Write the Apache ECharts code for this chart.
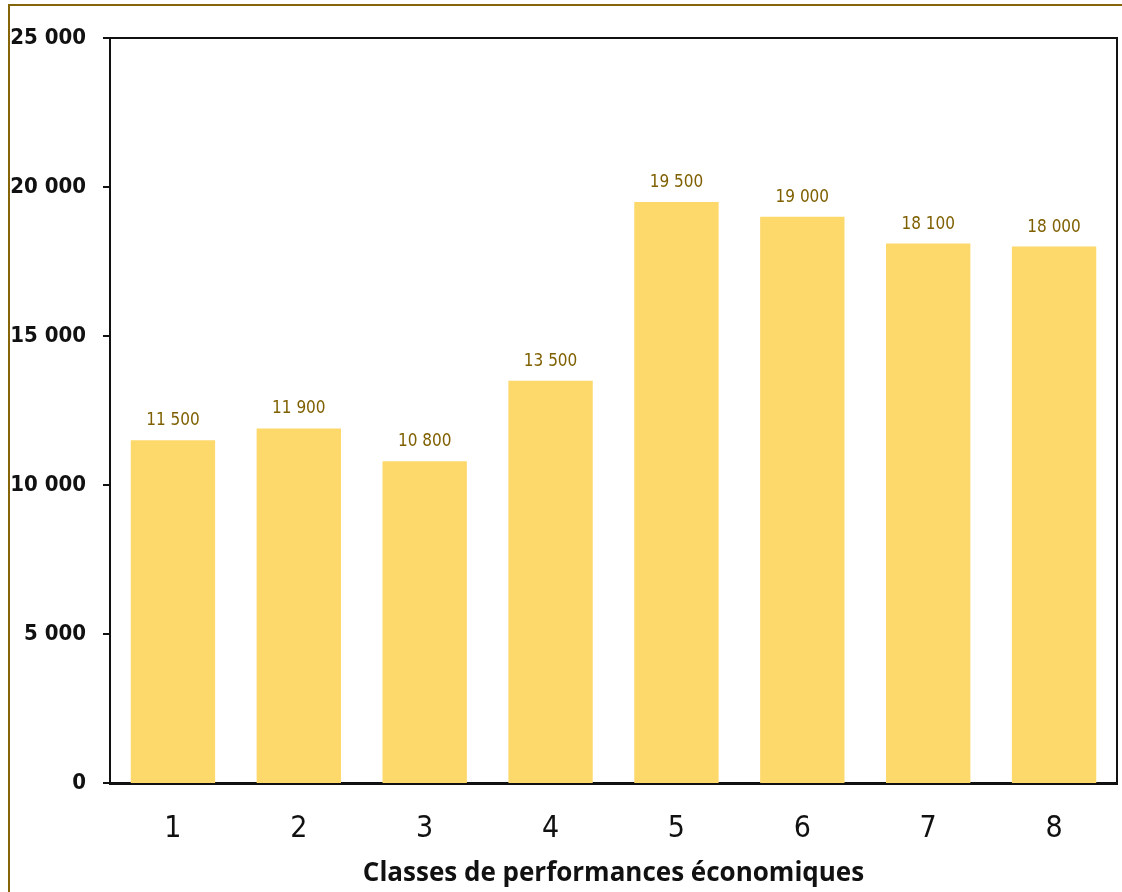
<!DOCTYPE html>
<html><head><meta charset="utf-8">
<script src="https://cdn.jsdelivr.net/npm/echarts@6/dist/echarts.min.js"></script>
<style>html,body{margin:0;padding:0;background:#fff}#c{width:1122px;height:892px}</style>
</head><body><div id="c"></div>
<script>
const categories = ['1','2','3','4','5','6','7','8'];
const values = [11500, 11900, 10800, 13500, 19500, 19000, 18100, 18000];
const xTitle = 'Classes de performances économiques';

function fmt(v){ return String(v).replace(/\B(?=(\d{3})+(?!\d))/g, ' '); }
const NARROW = '"DejaVu Sans Condensed", Lato, sans-serif';

const chart = echarts.init(document.getElementById('c'));
chart.setOption({
  animation: false,
  graphic: [
    {type:'rect', shape:{x:9, y:5, width:1300, height:1000}, style:{fill:'none', stroke:'#85650A', lineWidth:2}, z:100},
    {type:'rect', shape:{x:110, y:38, width:1007, height:746}, style:{fill:'none', stroke:'#111', lineWidth:2}, z:50}
  ],
  grid: {left:110, top:38, right:5, bottom:108, containLabel:false},
  xAxis: {
    type:'category', data: categories,
    axisLine:{show:true, lineStyle:{color:'#111', width:2}},
    axisTick:{show:false},
    axisLabel:{color:'#111', fontFamily:NARROW, fontSize:30, margin:31},
    name: xTitle, nameLocation:'middle', nameGap:78,
    nameTextStyle:{color:'#111', fontFamily:'Open Sans', fontWeight:'bold', fontSize:26}
  },
  yAxis: {
    type:'value', min:0, max:25000, interval:5000,
    axisLine:{show:true, lineStyle:{color:'#111', width:2}},
    axisTick:{show:true, length:7, lineStyle:{color:'#111', width:2}},
    splitLine:{show:false},
    axisLabel:{color:'#111', fontFamily:NARROW, fontWeight:'bold', fontSize:22, margin:24, formatter:fmt}
  },
  series: [{
    type:'bar', data: values, barWidth:'67%',
    itemStyle:{color:'#FDD86A'},
    label:{show:true, position:'top', distance:11, color:'#7F6000', fontFamily:NARROW, fontSize:17, formatter:p=>fmt(p.value)}
  }]
});
</script></body></html>
